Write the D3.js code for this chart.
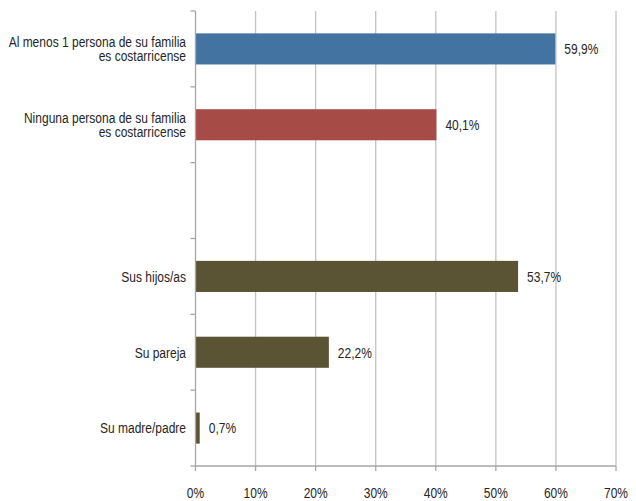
<!DOCTYPE html>
<html>
<head>
<meta charset="utf-8">
<script src="https://cdn.jsdelivr.net/npm/d3@7"></script>
<style>
  body { margin: 0; background: #fff; }
  text { font-family: "Liberation Sans", Arial, sans-serif; fill: #262626; }
</style>
</head>
<body>
<div id="chart"></div>
<script>
var width = 636
var height = 501

// data
const categories = [
    "Al menos 1 persona de su familia|es costarricense",
    "Ninguna persona de su familia|es costarricense",
    "",
    "Sus hijos/as",
    "Su pareja",
    "Su madre/padre"
];
const values = [59.9, 40.1, null, 53.7, 22.2, 0.7];
const barColors = ["#4373a1", "#a74b46", "none", "#5a5334", "#5a5334", "#5a5334"];
const xTicks = [0, 10, 20, 30, 40, 50, 60, 70];

const margin = {top: 11, right: 20, bottom: 35, left: 195.5};
const squeeze = 0.8; // narrow the font to look condensed
const fontSize = "15px";

const svg = d3.select("#chart")
    .append("svg")
    .attr("width", width)
    .attr("height", height);

const x = d3.scaleLinear()
    .domain([0, 70])
    .range([margin.left, 616]);

const y = d3.scaleBand()
    .domain(d3.range(categories.length))
    .range([margin.top, height - margin.bottom])
    .paddingInner(0.59)
    .paddingOuter(0.295);

const yTicks = d3.scaleBand()
    .domain(d3.range(categories.length))
    .range([margin.top, height - margin.bottom]);

const yAxisY = height - margin.bottom;

// grid lines
svg.append("g")
    .selectAll("line")
    .data(xTicks.slice(1))
    .enter()
    .append("line")
    .attr("x1", d => x(d))
    .attr("x2", d => x(d))
    .attr("y1", margin.top)
    .attr("y2", yAxisY)
    .style("stroke", "#c3c3c3")
    .style("stroke-width", "1.3px");

const rows = values.map((v, i) => ({v: v, i: i})).filter(d => d.v != null);

// bars
svg.append("g")
    .selectAll("rect")
    .data(rows)
    .enter()
    .append("rect")
    .attr("x", x(0))
    .attr("y", d => y(d.i))
    .attr("width", d => x(d.v) - x(0))
    .attr("height", y.bandwidth())
    .attr("fill", d => barColors[d.i]);

// value labels
svg.append("g")
    .selectAll("text")
    .data(rows)
    .enter()
    .append("text")
    .attr("transform", d => "translate(" + (x(d.v) + 9) + "," + (y(d.i) + y.bandwidth() / 2) + ") scale(" + squeeze + ",1)")
    .attr("dy", "0.35em")
    .style("font-size", fontSize)
    .text(d => d3.format(".1f")(d.v).replace(".", ",") + "%");

// y axis
svg.append("line")
    .attr("x1", x(0)).attr("x2", x(0))
    .attr("y1", margin.top).attr("y2", yAxisY)
    .style("stroke", "#a6a6a6")
    .style("stroke-width", "1.3px");

svg.append("g")
    .selectAll("line")
    .data(d3.range(categories.length + 1))
    .enter()
    .append("line")
    .attr("x1", x(0) - 5)
    .attr("x2", x(0))
    .attr("y1", d => margin.top + d * yTicks.bandwidth())
    .attr("y2", d => margin.top + d * yTicks.bandwidth())
    .style("stroke", "#a6a6a6")
    .style("stroke-width", "1.3px");

// category labels
const labels = svg.append("g")
    .selectAll("text")
    .data(categories)
    .enter()
    .append("text")
    .attr("text-anchor", "end")
    .style("font-size", fontSize)
    .attr("transform", (d, i) => "translate(186," + (y(i) + y.bandwidth() / 2) + ") scale(" + squeeze + ",1)");

labels.each(function(d) {
    const lines = d ? d.split("|") : [];
    const t = d3.select(this);
    lines.forEach((l, k) => {
        t.append("tspan")
            .attr("x", 0)
            .attr("y", (k - (lines.length - 1) / 2) * 13.5)
            .attr("dy", "0.35em")
            .text(l);
    });
});

// x axis
svg.append("line")
    .attr("x1", x(0)).attr("x2", x(70))
    .attr("y1", yAxisY).attr("y2", yAxisY)
    .style("stroke", "#a6a6a6")
    .style("stroke-width", "1.3px");

svg.append("g")
    .selectAll("line")
    .data(xTicks)
    .enter()
    .append("line")
    .attr("x1", d => x(d)).attr("x2", d => x(d))
    .attr("y1", yAxisY).attr("y2", yAxisY + 5)
    .style("stroke", "#a6a6a6")
    .style("stroke-width", "1.3px");

svg.append("g")
    .selectAll("text")
    .data(xTicks)
    .enter()
    .append("text")
    .attr("transform", d => "translate(" + x(d) + ",493) scale(" + squeeze + ",1)")
    .attr("dy", "0.35em")
    .attr("text-anchor", "middle")
    .style("font-size", fontSize)
    .text(d => d + "%");
</script>
</body>
</html>
